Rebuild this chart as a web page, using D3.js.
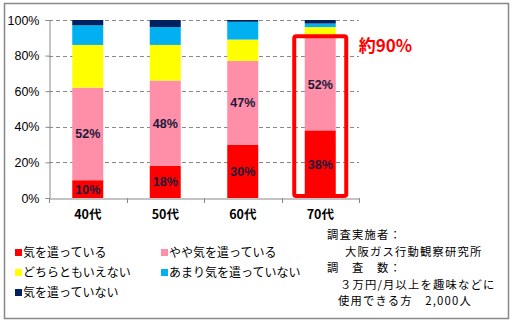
<!DOCTYPE html>
<html><head><meta charset="utf-8">
<script src="https://cdn.jsdelivr.net/npm/d3@7"></script>
<style>body{margin:0;background:#fff}svg{display:block}</style>
</head><body>
<script>
const categories = ["40代","50代","60代","70代"];
const seriesNames = ["気を遣っている","やや気を遣っている","どちらともいえない","あまり気を遣っていない","気を遣っていない"];
const seriesColors = ["#ff0000","#ff8fa8","#ffff00","#00b0f0","#002060"];
const s1 = [10,18,30,38];
const s2 = [52,48,47,52];
const s3 = [24,20,12,6];
const s4 = [11,10,10,2];
const s5 = [3,4,1,2];
const labelSeries = [0,1];
const yTicks = [0,20,40,60,80,100];
const highlightCat = "70代";
const highlightText = "約90%";
const infoLines = ["調査実施者：","大阪ガス行動観察研究所","調　査　数：","３万円/月以上を趣味などに","使用できる方　2,000人"];

(function(){
const W=512,H=323;
const svg=d3.select("body").append("svg").attr("width",W).attr("height",H);
svg.append("rect").attr("x",4.5).attr("y",3.5).attr("width",504).attr("height",315)
  .attr("fill","#fff").attr("stroke","#888").attr("stroke-width",1.5);

const pL=49,pR=359,pT=20,pB=198;
const x=d3.scaleBand().domain(categories).range([pL,pR]).paddingInner(0.6).paddingOuter(0.3);
const y=d3.scaleLinear().domain([0,100]).range([pB,pT]);

const allVals=[s1,s2,s3,s4,s5];
const rows=categories.map((c,i)=>{const o={cat:c};seriesNames.forEach((s,k)=>o[s]=allVals[k][i]);return o;});
const stack=d3.stack().keys(seriesNames)(rows);

svg.append("g").selectAll("line").data(yTicks.filter(t=>t>0)).join("line")
  .attr("x1",pL).attr("x2",pR).attr("y1",d=>Math.round(y(d))+0.5).attr("y2",d=>Math.round(y(d))+0.5)
  .attr("stroke","#888").attr("stroke-dasharray","4,3");

stack.forEach((layer,k)=>{
  svg.append("g").attr("fill",seriesColors[k]).selectAll("rect").data(layer).join("rect")
    .attr("x",d=>x(d.data.cat)).attr("width",x.bandwidth())
    .attr("y",d=>y(d[1])).attr("height",d=>y(d[0])-y(d[1]));
});

labelSeries.forEach(k=>{
  svg.append("g").selectAll("text").data(stack[k]).join("text")
    .attr("x",d=>x(d.data.cat)+x.bandwidth()/2)
    .attr("y",d=>(y(d[0])+y(d[1]))/2+4.5)
    .attr("text-anchor","middle")
    .attr("font-family","Liberation Sans, Arial, sans-serif").attr("font-size",12.5).attr("font-weight","bold")
    .attr("fill","#1a1a3a").text(d=>(d[1]-d[0])+"%");
});

const ya=svg.append("g").attr("transform",`translate(${pL+0.5},0)`)
  .call(d3.axisLeft(y).tickValues(yTicks).tickFormat(d=>d+"%").tickSize(4).tickPadding(6));
ya.select(".domain").attr("stroke","#888");
ya.selectAll(".tick line").attr("stroke","#888");
ya.selectAll("text").attr("font-family","Liberation Sans, Arial, sans-serif").attr("font-size",12.5).attr("fill","#000");

const xa=svg.append("g").attr("transform",`translate(0,${pB+0.5})`)
  .call(d3.axisBottom(x).tickSize(0).tickPadding(12));
xa.select(".domain").attr("stroke","#888");
xa.selectAll("text").attr("font-family","Noto Sans CJK JP, sans-serif").attr("font-size",12.5).attr("font-weight","bold").attr("fill","#000");
const step=x.step();
const bounds=d3.range(categories.length+1).map(i=>pL+i*step);
svg.append("g").selectAll("line").data(bounds).join("line")
  .attr("x1",d=>Math.round(d)+0.5).attr("x2",d=>Math.round(d)+0.5).attr("y1",pB).attr("y2",pB+5).attr("stroke","#888");

const hx=x(highlightCat);
svg.append("rect").attr("x",hx-10.5).attr("y",y(90)-1.5).attr("width",x.bandwidth()+21).attr("height",pB-2-(y(90)-1.5))
  .attr("rx",2).attr("fill","none").attr("stroke","#ff0000").attr("stroke-width",4);
svg.append("text").attr("x",hx+x.bandwidth()+23).attr("y",52)
  .attr("font-family","Noto Sans CJK JP, sans-serif").attr("font-size",17).attr("font-weight","bold").attr("fill","#ff0000").text(highlightText);

const legPos=[[15,252],[161,252],[15,272],[161,272],[15,292]];
seriesNames.forEach((s,k)=>{
  const [lx,ly]=legPos[k];
  svg.append("rect").attr("x",lx).attr("y",ly-3).attr("width",7).attr("height",7).attr("fill",seriesColors[k]);
  svg.append("text").attr("x",lx+8).attr("y",ly+4.5)
    .attr("font-family","Noto Sans CJK JP, sans-serif").attr("font-size",12).attr("fill","#000").text(s);
});

const infoX=[327,345,327,340,338];
const infoY=[239,255.5,272,288.5,305];
infoLines.forEach((t,i)=>{
  svg.append("text").attr("x",infoX[i]).attr("y",infoY[i]).attr("xml:space","preserve")
    .attr("font-family","Noto Sans CJK JP, sans-serif").attr("font-size",11.3).attr("letter-spacing",1.2)
    .attr("fill","#000").text(t);
});
})();
</script>
</body></html>
